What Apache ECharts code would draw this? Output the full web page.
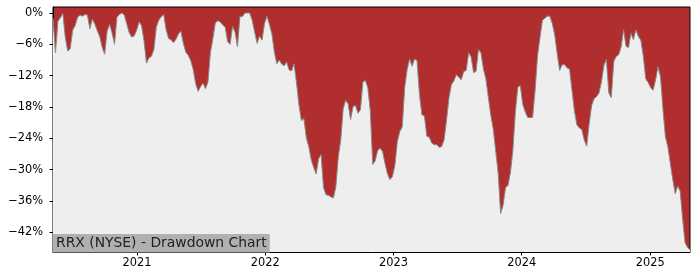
<!DOCTYPE html>
<html>
<head>
<meta charset="utf-8">
<script src="https://cdn.jsdelivr.net/npm/echarts@6/dist/echarts.min.js"></script>
<style>
html, body { margin: 0; padding: 0; background: #ffffff; }
#chart { width: 700px; height: 280px; }
</style>
</head>
<body>
<div id="chart"></div>
<script>
// Weekly drawdown readings (percent), first reading on 2020-05-07
const startDate = [2020, 4, 7];
const stepDays = 7;
const drawdown = [
  -0.9, -7.6, -1.6, -0.9, -0.1, -4.7, -7.3, -6.8, -3.3, -2.4,
  -0.8, -0.4, -0.6, -0.3, -0.4, -3.0, -1.2, -2.1, -3.4, -4.5,
  -6.6, -7.9, -3.5, -2.2, -3.8, -6.0, -0.8, -0.3, 0.0, -0.4,
  -2.1, -3.8, -4.6, -4.4, -3.3, -1.7, -2.4, -5.3, -9.6, -8.6,
  -8.3, -7.0, -2.7, -1.4, -0.7, -0.3, -3.2, -4.9, -5.1, -5.7,
  -5.0, -4.0, -3.5, -5.8, -7.5, -8.1, -9.1, -10.8, -13.5, -15.0,
  -14.1, -13.4, -14.5, -13.2, -7.6, -4.9, -1.9, -1.5, -1.7, -2.3,
  -2.7, -5.5, -6.0, -2.6, -3.6, -6.5, -0.7, -0.7, 0.0, 0.0,
  0.0, -1.4, -3.7, -5.8, -4.4, -5.2, -2.0, -0.6, -2.2, -4.0,
  -7.5, -9.7, -9.0, -9.8, -10.1, -9.4, -10.9, -11.1, -9.7, -13.3,
  -17.6, -20.6, -20.2, -23.9, -25.6, -28.1, -29.6, -30.8, -27.9, -27.1,
  -33.4, -34.8, -34.9, -35.2, -35.4, -33.3, -27.5, -24.3, -18.3, -16.7,
  -17.4, -20.4, -17.9, -17.7, -19.2, -18.5, -13.2, -12.9, -14.3, -18.7,
  -29.0, -28.3, -26.3, -25.9, -26.5, -28.8, -30.8, -31.9, -31.3, -29.2,
  -24.6, -22.7, -21.8, -14.3, -10.8, -8.8, -10.2, -8.8, -9.1, -15.6,
  -19.5, -19.7, -23.6, -23.8, -24.9, -25.2, -25.2, -25.7, -25.6, -24.3,
  -20.6, -16.2, -13.7, -13.0, -11.8, -12.3, -12.8, -11.2, -11.0, -7.6,
  -8.4, -11.4, -11.2, -7.0, -7.6, -10.7, -12.6, -16.1, -19.6, -22.2,
  -26.4, -30.6, -38.4, -36.8, -33.4, -33.0, -30.5, -26.2, -18.9, -14.2,
  -13.9, -17.5, -18.9, -20.0, -20.0, -20.0, -14.9, -8.3, -4.7, -1.4,
  -1.0, -0.6, -0.6, -2.0, -4.2, -7.8, -11.0, -9.9, -9.9, -10.5,
  -10.7, -14.7, -18.7, -21.4, -22.0, -22.3, -24.3, -25.5, -21.2, -17.7,
  -16.4, -16.0, -15.3, -13.2, -10.0, -8.9, -15.3, -16.2, -9.3, -8.3,
  -8.0, -6.5, -3.2, -6.4, -6.6, -3.9, -5.1, -3.2, -4.5, -5.2,
  -8.2, -12.6, -13.3, -14.3, -14.8, -12.8, -10.3, -12.2, -18.4, -23.7,
  -25.6, -28.8, -31.9, -34.6, -33.1, -34.1, -39.4, -44.0, -44.9, -45.3
];
const yTicks = [0, -6, -12, -18, -24, -30, -36, -42];
const xTickYears = [2021, 2022, 2023, 2024, 2025];
const titleText = 'RRX (NYSE) - Drawdown Chart';

const times = drawdown.map((_, i) => Date.UTC(startDate[0], startDate[1], startDate[2] + stepDays * i));
const seriesData = drawdown.map((v, i) => [times[i], v]);
const xTickValues = xTickYears.map(y => Date.UTC(y, 0, 1));

const font = 'DejaVu Sans';
const chart = echarts.init(document.getElementById('chart'), null, { renderer: 'canvas' });
chart.setOption({
  animation: false,
  backgroundColor: '#ffffff',
  title: {
    text: titleText,
    left: 53,
    top: 234,
    padding: [2, 3, 2, 3],
    backgroundColor: '#b0b0b0',
    textStyle: { fontFamily: font, fontSize: 13.9, fontWeight: 'normal', color: '#222222', lineHeight: 14.5 },
    z: 10
  },
  grid: {
    left: 53, right: 10, top: 7, bottom: 28,
    show: true,
    backgroundColor: '#b02e2e',
    borderColor: '#000000',
    borderWidth: 1
  },
  xAxis: {
    type: 'value',
    min: times[0],
    max: times[times.length - 1],
    axisLine: { show: true, onZero: false, lineStyle: { color: '#000000', width: 1 } },
    axisTick: { show: true, customValues: xTickValues, length: 3.5, lineStyle: { color: '#000000' } },
    axisLabel: {
      customValues: xTickValues,
      formatter: v => String(new Date(v).getUTCFullYear()),
      fontFamily: font, fontSize: 11.4, color: '#000000', margin: 6
    },
    splitLine: { show: false }
  },
  yAxis: {
    type: 'value',
    min: -45.75,
    max: 1.15,
    axisLine: { show: true, lineStyle: { color: '#000000', width: 1 } },
    axisTick: { show: true, customValues: yTicks, length: 3.5, lineStyle: { color: '#000000' } },
    axisLabel: {
      customValues: yTicks,
      formatter: v => (v < 0 ? '\u2212' : '') + Math.abs(v) + '%',
      fontFamily: font, fontSize: 11.4, color: '#000000', margin: 10
    },
    splitLine: { show: false }
  },
  series: [{
    type: 'line',
    data: seriesData,
    showSymbol: false,
    sampling: 'none',
    lineStyle: { color: '#8a8a8a', width: 1 },
    areaStyle: { color: '#eeeeee', origin: 'start', opacity: 1 },
    z: 2
  }]
});
</script>
</body>
</html>
